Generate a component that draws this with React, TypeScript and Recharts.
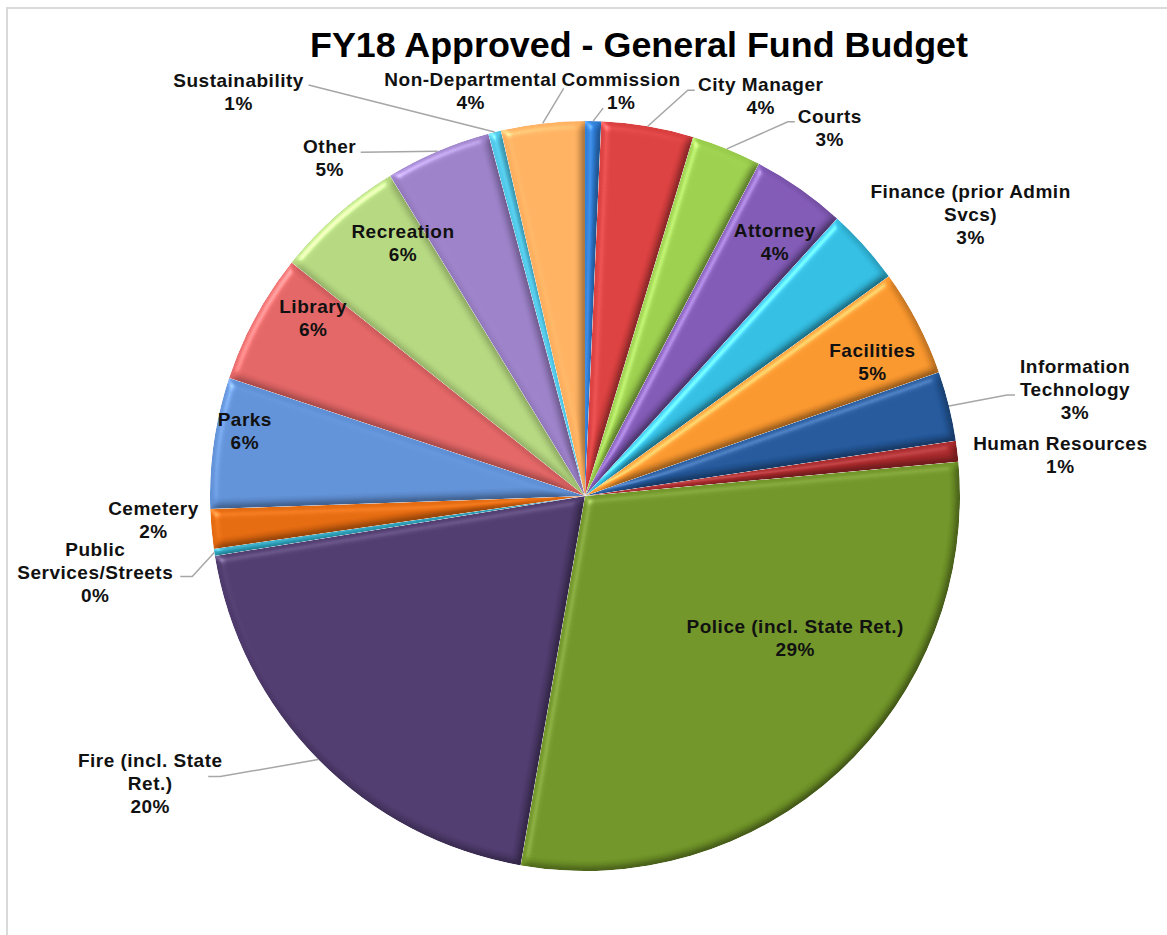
import React from 'react';
import { PieChart, Pie, Cell } from 'recharts';

// FY18 approved general fund, share of budget by department (percent)
const categories = [
  'Commission',
  'City Manager',
  'Courts',
  'Attorney',
  'Finance (prior Admin\nSvcs)',
  'Facilities',
  'Information\nTechnology',
  'Human Resources',
  'Police (incl. State Ret.)',
  'Fire (incl. State\nRet.)',
  'Public\nServices/Streets',
  'Cemetery',
  'Parks',
  'Library',
  'Recreation',
  'Other',
  'Sustainability',
  'Non-Departmental',
];

const shares = [
  0.69, 3.97, 3.02, 4.06, 3.3, 4.6, 3.0, 0.9, 29.2, 19.7, 0.3, 1.7, 5.65, 5.6, 5.6, 4.55, 0.55, 3.6,
];

const colors = [
  '#2F7ED8', '#D93F3F', '#9ACD4C', '#7F58B3', '#32BCE0', '#F7952D',
  '#235799', '#A8292B', '#6F9327', '#4E3A6C', '#2A9BB5', '#E3690F',
  '#5F8FD4', '#E06464', '#B3D57E', '#9A7FC6', '#52C8E8', '#FBAF5F',
];

const data = categories.map((name, i) => ({ name, value: shares[i] }));

// label placement relative to the slice's outer edge point; leader points relative to the label
type LabelPos = { dx: number; dy: number; leader?: number[][] };
const labelPos: LabelPos[] = [
  { dx: 28, dy: -35, leader: [[-18, 22]] },
  { dx: 113, dy: -35, leader: [[-73, -1], [-66, -1]] },
  { dx: 103, dy: -26, leader: [[-42, -1], [-35, -1]] },
  { dx: -25, dy: 48 },
  { dx: 106, dy: -48 },
  { dx: -45, dy: 35 },
  { dx: 126, dy: -33, leader: [[-68, 22], [-60, 22]] },
  { dx: 103, dy: -1 },
  { dx: -44, dy: -139 },
  { dx: -168, dy: 7, leader: [[70, 10], [58, 10]] },
  { dx: -119, dy: 4, leader: [[97, 20], [85, 20]] },
  { dx: -58, dy: -14 },
  { dx: 31, dy: -17 },
  { dx: 58, dy: -4 },
  { dx: 66, dy: 23 },
  { dx: -108, dy: 2, leader: [[31, -1]] },
  { dx: -256, dy: -45, leader: [[70, -2]] },
  { dx: -72, dy: -37, leader: [[93, 2]] },
];

const FONT = '"Liberation Sans", Arial, sans-serif';
const RAD = Math.PI / 180;

const renderLabel = (props: any) => {
  const { cx, cy, midAngle, outerRadius, percent, index, name } = props;
  const pos = labelPos[index];
  const ex = cx + outerRadius * Math.cos(-midAngle * RAD);
  const ey = cy + outerRadius * Math.sin(-midAngle * RAD);
  const lx = ex + pos.dx;
  const ly = ey + pos.dy;
  const lines = [...String(name).split('\n'), `${Math.round(percent * 100)}%`];
  const leaderPts = pos.leader
    ? [[ex, ey], ...pos.leader.map(([px, py]) => [lx + px, ly + py])]
    : null;
  return (
    <g key={`lbl-${index}`}>
      {leaderPts && (
        <polyline
          points={leaderPts.map((p) => p.join(',')).join(' ')}
          fill="none"
          stroke="#A6A6A6"
          strokeWidth={1.5}
        />
      )}
      <text
        x={lx}
        y={ly}
        textAnchor="middle"
        fontFamily={FONT}
        fontWeight="bold"
        fontSize={19}
        letterSpacing={0.5}
        fill="#111"
      >
        {lines.map((t, i) => (
          <tspan key={i} x={lx} y={ly + i * 23}>
            {t}
          </tspan>
        ))}
      </text>
    </g>
  );
};

const App = () => {
  return (
    <div style={{ position: 'absolute', left: 0, top: 0, width: 1167, height: 935, overflow: 'hidden', background: '#fff' }}>
      <div
        style={{
          position: 'absolute',
          left: 6,
          top: 7,
          width: 1300,
          height: 1100,
          border: '2px solid #DADADA',
        }}
      />
      {/* soft bevel applied to each slice */}
      <svg width={0} height={0} style={{ position: 'absolute' }}>
        <defs>
          <filter id="bevel" x="-10%" y="-10%" width="120%" height="120%" colorInterpolationFilters="sRGB">
            <feGaussianBlur in="SourceAlpha" stdDeviation="4" result="blur" />
            <feDiffuseLighting in="blur" surfaceScale="3" diffuseConstant="1.16" lightingColor="#ffffff" result="diff">
              <feDistantLight azimuth="225" elevation="60" />
            </feDiffuseLighting>
            <feComposite in="SourceGraphic" in2="diff" operator="arithmetic" k1="1" k2="0" k3="0" k4="0" result="shaded" />
            <feSpecularLighting in="blur" surfaceScale="3" specularConstant="0.6" specularExponent="60" lightingColor="#ffffff" result="spec">
              <feDistantLight azimuth="225" elevation="55" />
            </feSpecularLighting>
            <feComposite in="spec" in2="SourceAlpha" operator="in" result="specIn" />
            <feComposite in="shaded" in2="specIn" operator="arithmetic" k1="0" k2="1" k3="0.45" k4="0" result="lit" />
            <feComposite in="lit" in2="SourceAlpha" operator="in" />
          </filter>
        </defs>
      </svg>
      <div style={{ position: 'absolute', left: 0, top: 0 }}>
        <PieChart width={1167} height={935} margin={{ top: 0, right: 0, bottom: 0, left: 0 }}>
          <Pie
            data={data}
            dataKey="value"
            nameKey="name"
            cx={585}
            cy={496}
            outerRadius={375}
            startAngle={90}
            endAngle={-270}
            stroke="none"
            label={renderLabel}
            labelLine={false}
            isAnimationActive={false}
          >
            {data.map((d, i) => (
              <Cell key={d.name} fill={colors[i]} filter="url(#bevel)" />
            ))}
          </Pie>
        </PieChart>
      </div>
      <svg width={1167} height={80} style={{ position: 'absolute', left: 0, top: 0 }}>
        <text
          x={310}
          y={57}
          textAnchor="start"
          fontFamily={FONT}
          fontWeight="bold"
          fontSize={35}
          textLength={658}
          lengthAdjust="spacingAndGlyphs"
          fill="#000"
        >
          FY18 Approved - General Fund Budget
        </text>
      </svg>
    </div>
  );
};

export default App;
